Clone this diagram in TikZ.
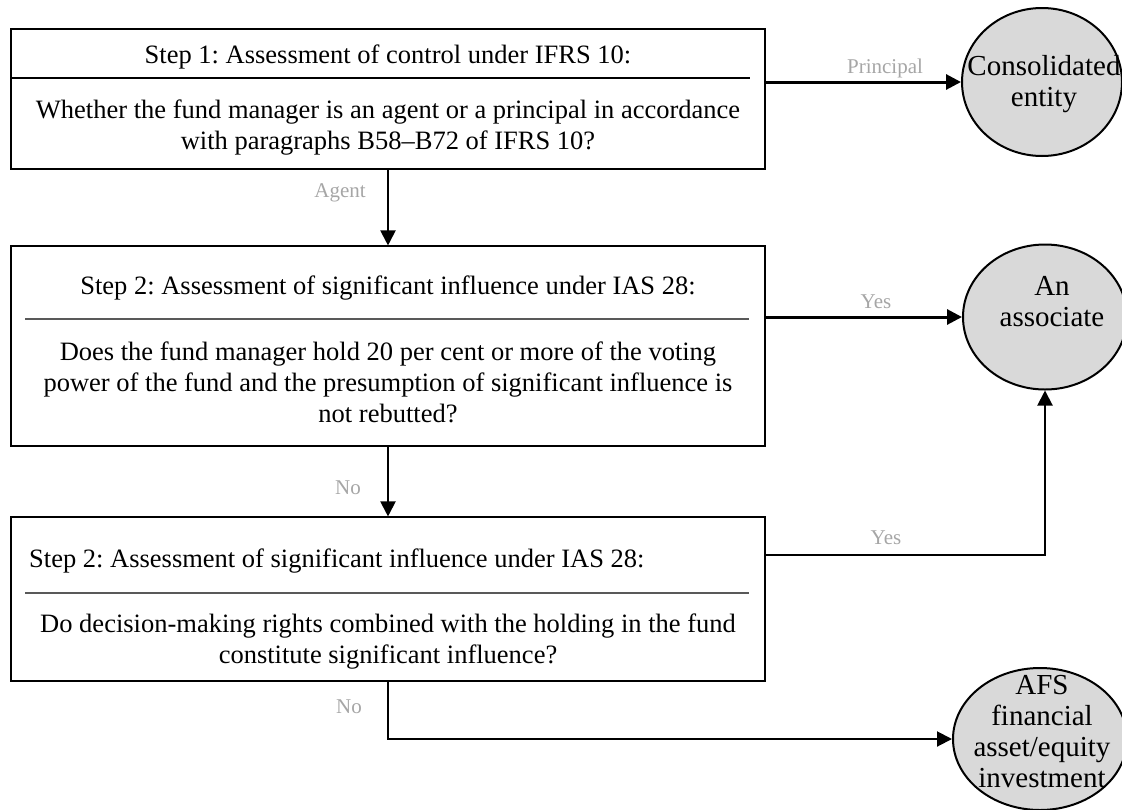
\documentclass[tikz,border=0pt]{standalone}
\usepackage{fontspec}
\setmainfont{Liberation Serif}
\usetikzlibrary{arrows.meta,shapes.geometric}
\frenchspacing
\begin{document}
\begin{tikzpicture}[x=1pt,y=-1pt,
    stepbox/.style={draw,line width=1.1pt,minimum width=754pt,inner sep=0pt},
    boxtext/.style={font=\fontsize{26.5}{31}\selectfont,align=center,inner sep=0pt},
    divider/.style={line width=1.5pt,black!65},
    outcome/.style={ellipse,draw,line width=2pt,fill=gray!30,inner sep=0pt},
    outtext/.style={font=\fontsize{29}{31}\selectfont,align=center,inner sep=0pt},
    answer/.style={font=\fontsize{21}{24}\selectfont,text=gray!70,inner sep=0pt},
    flow/.style={-{Triangle[length=15pt,width=15pt]},line width=2pt},
    bigflow/.style={flow,line width=3pt}]

    \useasboundingbox (0,0) rectangle (1122,809);

    \node[stepbox,minimum height=140pt] (step1) at (388,99) {};
    \node[boxtext] (title1) at (388,57) {Step 1: Assessment of control under IFRS 10:};
    \draw[line width=2pt] (step1.west |- 0,78) -- (750,78);
    \node[boxtext] (ask1) at (388,128) {Whether the fund manager is an agent or a principal in accordance\\with paragraphs B58–B72 of IFRS 10?};

    \node[stepbox,minimum height=200pt] (step2) at (388,346) {};
    \node[boxtext] (title2) at (388,288) {Step 2: Assessment of significant influence under IAS 28:};
    \draw[divider] (25,319) -- (749,319);
    \node[boxtext] (ask2) at (388,382) {Does the fund manager hold 20 per cent or more of the voting\\power of the fund and the presumption of significant influence is\\not rebutted?};

    \node[stepbox,minimum height=164pt] (step3) at (388,599) {};
    \node[boxtext,anchor=west] (title3) at (29,561) {Step 2: Assessment of significant influence under IAS 28:};
    \draw[divider] (25,593) -- (749,593);
    \node[boxtext] (ask3) at (388,642) {Do decision-making rights combined with the holding in the fund\\constitute significant influence?};

    \node[outcome,minimum width=160pt,minimum height=148pt] (cons) at (1042,82) {};
    \node[outtext] (constext) at (1044,84) {Consolidated\\entity};
    \node[outcome,minimum width=164pt,minimum height=145pt] (assoc) at (1045,317) {};
    \node[outtext] (assoctext) at (1052,302) {An\\associate};
    \node[outcome,minimum width=174pt,minimum height=142pt] (afs) at (1040,739) {};
    \node[outtext] (afstext) at (1042,732) {AFS\\financial\\asset/equity\\investment};

    \coordinate (yesout) at (step3.east |- 0,555);
    \draw[bigflow] (step1.east |- cons.west) -- (cons.west);
    \draw[flow] (step1.south) -- (step2.north);
    \draw[bigflow] (step2.east |- assoc.west) -- (assoc.west);
    \draw[flow] (step2.south) -- (step3.north);
    \draw[flow] (yesout) -| (assoc.south);
    \draw[flow] (step3.south) |- (afs.west);

    \node[answer] (principal) at (885,68) {Principal};
    \node[answer] (agent) at (340,193) {Agent};
    \node[answer] (yes1) at (876,302) {Yes};
    \node[answer] (no1) at (348,488) {No};
    \node[answer] (yes2) at (886,538) {Yes};
    \node[answer] (no2) at (349,707) {No};
\end{tikzpicture}
\end{document}
